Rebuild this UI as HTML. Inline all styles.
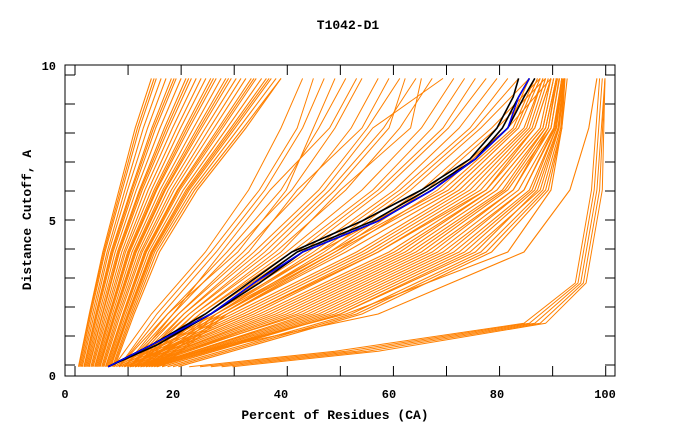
<!DOCTYPE html>
<html><head><meta charset="utf-8">
<style>
body{margin:0;background:#fff;}
svg{display:block;font-family:"Liberation Mono",monospace;font-weight:bold;}
</style></head>
<body>
<svg id="chart" width="680" height="440" viewBox="0 0 680 440" xmlns="http://www.w3.org/2000/svg">
<text x="348" y="29" font-size="13" text-anchor="middle">T1042-D1</text>
<text transform="translate(31,220) rotate(-90)" font-size="13" text-anchor="middle">Distance Cutoff, A</text>
<text x="335" y="419" font-size="13" text-anchor="middle">Percent of Residues (CA)</text>
<g id="ticks"></g>
<g id="series"></g>
<rect x="65" y="65" width="550" height="311" fill="none" stroke="#000" stroke-width="1"/>
</svg>
<script>
// Data
const yLevels = [0.3, 2, 4, 6, 8, 9.6];
const yLevelsLow = [0.3, 0.8, 1.7, 3, 6, 9.6];
const yLevelsFine = [0.3, 1, 2, 3, 4, 5, 6, 7, 8, 9, 9.6];
const bandLeft = [
 [2.5,4.5,7,10,13,16],[3,5.1,7.8,11.1,14.5,17.8],[3.5,5.7,8.5,12.2,16.1,19.7],
 [4,6.3,9.3,13.2,17.6,21.5],[4.5,7,10.1,14.3,19.2,23.4],[5,7.6,10.9,15.4,20.7,25.2],
 [5.5,8.2,11.6,16.5,22.2,27],[6,8.8,12.4,17.6,23.8,28.9],[6.5,9.4,13.2,18.6,25.3,30.8],
 [7,10,14,19.7,26.8,32.6],[7.5,10.7,14.7,20.8,28.4,34.5],[8,11.3,15.5,21.9,30,36.4],
 [8.5,11.9,16.3,23,31.5,38.2],[9,12.5,17,24,33,40],
 [3.2,5.4,8.1,11.6,15.3,18.7],[4.2,6.6,9.7,13.8,18.4,22.4],[5.2,7.9,11.2,16,21.4,26.1],
 [6.2,9.1,12.8,18.1,24.5,29.8],[7.2,10.3,14.3,20.2,27.6,33.5],[8.2,11.6,15.9,22.4,30.7,37.3],
 [2.8,4.8,7.4,10.6,13.8,16.9],[3.8,6,8.9,12.7,16.8,20.6],[4.8,7.3,10.5,14.8,19.9,24.3],
 [5.8,8.5,12,17,23,28],[6.8,9.7,13.6,19.1,26,31.7],[7.8,11,15.1,21.3,29.2,35.4],
 [8.8,12.2,16.6,23.5,32.2,39.1],[3.6,5.8,8.7,12.4,16.4,20.2],[5.6,8.3,11.8,16.8,22.6,27.5],
 [7.6,10.8,14.9,21,28.8,35],[4.4,6.9,9.9,14,18.8,22.9],[6.4,9.2,13,18.4,24.9,30.3],
 [8.4,11.7,16.1,22.7,31.1,37.8],[2.6,4.6,7.2,10.3,13.4,16.5],[9.2,12.8,17.5,24.5,33.5,40]
];
const fanMiddle = [
 [9,16,26,34,40,44],[10,18,28,37,44,48],[10,19,30,40,47,52],[11,20,31,42,50,55],
 [11,21,33,44,53,58],[12,22,35,47,56,62],[12,23,37,49,59,65],[13,24,39,52,62,68],
 [13,25,41,55,66,72],[14,26,43,58,70,76],[14,27,45,61,73,80],[15,28,47,63,76,84],
 [15,29,49,66,79,88],[16,30,51,69,82,90],
 [10,17,27,36,43,46],[11,19,32,41,46,50],[12,21,34,43,55,60],[13,22,36,48,57,70],
 [14,24,40,51,64,66],[15,25,42,57,68,74],[16,27,44,59,71,78],[17,28,46,62,75,82],
 [18,29,48,64,77,86],[18,30,50,67,80,89],[12,20,29,38,49,54],[13,23,38,50,60,63]
];
const bandRight = [
 [9,27,47,68,82,86],[10,30,52,72,84,88],[11,33,56,75,86,89],[12,36,60,78,88,90],
 [13,39,63,80,89,91],[14,42,66,82,90,91.5],[15,45,69,84,90.5,92],[16,48,72,86,91,92],
 [18,51,75,88,91.5,92.5],[20,54,78,89,92,92.5],[12,58,85,93.5,97,98.5],[14,52,82,90,92,93],
 [10.5,31,54,73,85,88.5],[12.5,37,61,79,88.5,90.5],[15,46,70,85,90.8,92],[17,50,74,87,91.3,92.3],
 [9.5,28,49,70,83,87],[10,29,50,71,83.5,87.5],[11,32,55,74,85.5,88.5],[11.5,34,57,76,86.5,89.5],
 [12,35,58,77,87,90],[13,38,62,79,88.5,90.5],[13.5,40,64,81,89,91],[14,41,65,81.5,89.5,91.2],
 [14.5,43,67,83,90,91.6],[15.5,47,71,85,90.6,92],[16.5,49,73,86.5,91,92.2],[17,51,76,87.5,91.4,92.4],
 [19,53,77,88.5,91.8,92.5],[21,55,79,89.5,92,92.6],[11,34,58,78,87,90],[13,44,68,83,89.5,91]
];
const bottomCluster = [
 [23,50,85,94.5,97.5,99],[25,52,86,95,98,99.5],[27,54,87,95.5,98.5,100],
 [29,56,88,96,99,100],[31,58,89,96.5,99.5,100]
];
const blackSeries = [
 [8,16,26,34,42,55,66,75,80,83,84],
 [8,17,27,35,43,57,67,76,82,85,87],
 [8,16,27,36,44,58,68,76,81,84,86]
];
const blueSeries = [8,16,27,35,44,58,68,76,82,84,86];
const xTickLabels = [0,20,40,60,80,100];
const yTickLabels = [0,5,10];

// Axis functions
const X = v => 65 + v * 5.4;
const Y = v => 376 - v * 31;
const NS = "http://www.w3.org/2000/svg";
const ticksG = document.getElementById('ticks');
const seriesG = document.getElementById('series');

function mk(tag, attrs, parent){
  const e = document.createElementNS(NS, tag);
  for (const k in attrs) e.setAttribute(k, attrs[k]);
  parent.appendChild(e);
  return e;
}

for (let i = 0; i <= 10; i++) {
  const px = 75 + i * 53.07;
  const t1 = mk('line', {x1:px, x2:px, y1:376, y2:366, stroke:'#000'}, ticksG);
  
  
  const t2 = mk('line', {x1:px, x2:px, y1:65, y2:75, stroke:'#000'}, ticksG);
  
  
  const py = 365 - i * 29;
  const t3 = mk('line', {x1:65, x2:75, y1:py, y2:py, stroke:'#000'}, ticksG);
  
  
  const t4 = mk('line', {x1:605, x2:615, y1:py, y2:py, stroke:'#000'}, ticksG);
  
  
}
xTickLabels.forEach(v => {
  const t = mk('text', {x:X(v), y:398, 'font-size':12, 'text-anchor':'middle'}, ticksG);
  t.textContent = v;
  
  
});
yTickLabels.forEach(v => {
  const t = mk('text', {x:56, y:Y(v)+4, 'font-size':12, 'text-anchor':'end'}, ticksG);
  t.textContent = v;
  
  
});

function drawLine(xs, ys, color, w, name){
  const d = xs.map((x,i) => (i ? 'L' : 'M') + X(x).toFixed(1) + ' ' + Y(ys[i]).toFixed(1)).join(' ');
  const p = mk('path', {d:d, fill:'none', stroke:color, 'stroke-width':w}, seriesG);
  
  
}
const OR = '#ff8000';
bandLeft.forEach(s => drawLine(s, yLevels, OR, 1.1, 'model-curve-left-band'));
fanMiddle.forEach(s => drawLine(s, yLevels, OR, 1, 'model-curve-fan'));
bandRight.forEach(s => drawLine(s, yLevels, OR, 1.1, 'model-curve-right-band'));
bottomCluster.forEach(s => drawLine(s, yLevelsLow, OR, 1, 'model-curve-bottom'));
blackSeries.forEach(s => drawLine(s, yLevelsFine, '#000', 1.6, 'highlight-curve-black'));
drawLine(blueSeries, yLevelsFine, '#0000ff', 1.4, 'highlight-curve-blue');
</script>
</body></html>
